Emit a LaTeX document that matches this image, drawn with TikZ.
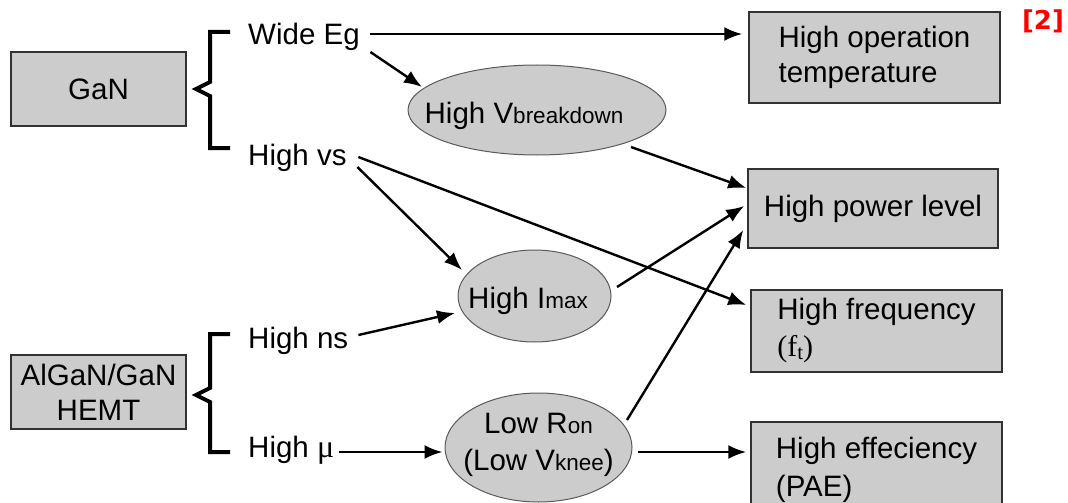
\documentclass[tikz,border=0pt]{standalone}
\usepackage{fontspec}
\setmainfont{Liberation Sans}
\newfontfamily\timesfont{Liberation Serif}
\newfontfamily\markfont{DejaVu Sans}
\usetikzlibrary{arrows.meta,shapes.geometric,calc}
\definecolor{boxfill}{RGB}{204,204,204}
\definecolor{boxline}{RGB}{50,50,50}
\definecolor{blobline}{RGB}{90,90,90}
% smaller, same-baseline index text (V_breakdown, I_max, ...)
\newcommand{\smalltxt}[1]{{\fontsize{22.5}{26}\selectfont #1}}

\begin{document}
\begin{tikzpicture}[x=1pt,y=-1pt,
  font=\fontsize{29.5}{35}\selectfont,
  box/.style={rectangle, draw=boxline, line width=1.5pt, fill=boxfill, inner sep=0pt, align=left},
  blob/.style={ellipse, draw=blobline, line width=1pt, fill=boxfill, inner sep=0pt},
  lbl/.style={anchor=base west, inner sep=0pt},
  arr/.style={-{Latex[length=18pt,width=14pt]}, line width=2.4pt},
  brace/.style={line width=4pt, line join=miter}]

\path[use as bounding box] (0,0) rectangle (1068,503);
\clip (0,0) rectangle (1068,503);

% material boxes on the left
\node[box, align=center, minimum width=175pt, minimum height=74pt] (gan) at (98.5,89) {GaN};
\node[box, align=center, minimum width=175pt, minimum height=74pt] (hemt) at (98.5,392) {AlGaN/GaN\\HEMT};

% braces
\draw[brace] (230,32) -- (210,32) -- (210,82) -- (196,89) -- (210,96) -- (210,148) -- (230,148);
\draw[brace] (230,334) -- (210,334) -- (210,388) -- (196,395) -- (210,402) -- (210,452) -- (230,452);

% properties
\node[lbl] (wideeg) at (248,45) {Wide Eg};
\node[lbl] (highvs) at (248,165) {High vs};
\node[lbl] (highns) at (248,348) {High ns};
\node[lbl] (highmu) at (248,457) {High {\timesfont\fontsize{32}{35}\selectfont μ}};

% intermediate quantities
\node[blob, minimum width=258pt, minimum height=90pt, text height=30pt, text depth=4pt] (vbd) at (537,110)
  {\makebox[0pt]{High V\smalltxt{breakdown}\hspace*{26pt}}};
\node[blob, minimum width=153pt, minimum height=92pt, text height=28pt, text depth=4pt] (imax) at (534.5,296)
  {\makebox[0pt]{High I\smalltxt{max}\hspace*{13pt}}};
\node[blob, minimum width=187pt, minimum height=109pt, text height=24pt, text depth=53pt] (ron) at (538.5,447.5)
  {\makebox[0pt]{\fontsize{29.5}{37}\selectfont\begin{tabular}[t]{@{}c@{}}Low R\smalltxt{on}\\(Low V\smalltxt{knee})\end{tabular}}};

% device benefits on the right
\node[box, minimum width=251pt, minimum height=91pt] (optemp) at (874.5,57.5) {High operation\\temperature};
\node[box, minimum width=250pt, minimum height=79pt] (power) at (873,208.5) {High power level};
\node[box, minimum width=251pt, minimum height=82pt] (freq) at (876.5,331)
  {High frequency\\[2pt]{\timesfont\fontsize{30}{30}\selectfont (f\raisebox{-3pt}{\fontsize{21}{21}\selectfont t})}};
\node[box, minimum width=251pt, minimum height=95pt] (eff) at (876.5,469.5) {High effeciency\\[3pt](PAE)};

% reference mark
\node[text=red, font=\markfont\bfseries\fontsize{26}{26}\selectfont, inner sep=0pt] (refmark) at (1043,21) {[2]};

% cause-effect arrows
\draw[arr] ($(wideeg.base east)+(10.5,-11)$) -- ($(optemp.west)+(-6,-23.5)$);
\draw[arr] ($(wideeg.base east)+(10.5,7)$) -- ($(vbd.center)+(-115,-23)$);
\draw[arr] ($(vbd.center)+(94,37)$) -- ($(power.west)+(-1,-20.5)$);
\draw[arr] ($(highvs.base east)+(10.6,2)$) -- ($(imax.center)+(-72.5,-26)$);
\draw[arr] ($(highvs.base east)+(11.6,-8)$) -- ($(freq.west)+(-4,-26)$);
\draw[arr] ($(highns.base east)+(10,-13)$) -- ($(imax.center)+(-79.5,17)$);
\draw[arr] ($(imax.center)+(82.5,-9)$) -- ($(power.west)+(-3,-2.5)$);
\draw[arr] ($(ron.center)+(88.5,-27.5)$) -- ($(power.west)+(-4,21.5)$);
\draw[arr] ($(highmu.base east)+(5,-5)$) -- ($(ron.west)+(-2,4.5)$);
\draw[arr] ($(ron.center)+(99.5,4.5)$) -- ($(eff.west)+(-4,-17.5)$);
\end{tikzpicture}
\end{document}
